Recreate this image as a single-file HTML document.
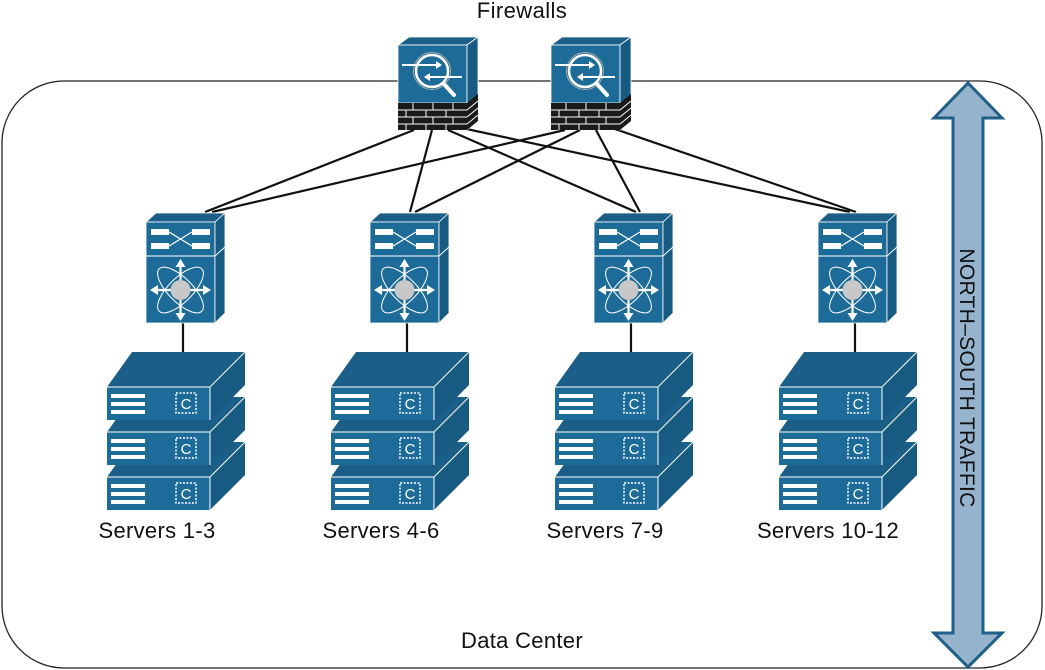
<!DOCTYPE html>
<html><head><style>
body{margin:0;background:#fff;}
svg{display:block;font-family:"Liberation Sans",Arial,sans-serif;}
</style></head><body>
<svg width="1045" height="670" viewBox="0 0 1045 670" xmlns="http://www.w3.org/2000/svg">
<defs>
<g id="srv">
 <polygon points="0,35 25,0 138,0 103,35" fill="#1b5f88"/>
 <rect x="0" y="35" width="103" height="33" fill="#1d6b98"/>
 <polygon points="103,35 138,0 138,33 103,68" fill="#175a82"/>
 <line x1="0" y1="35" x2="103" y2="35" stroke="#fff" stroke-width="1"/>
 <line x1="103" y1="35" x2="138" y2="0" stroke="#fff" stroke-width="1"/>
 <line x1="103" y1="35" x2="103" y2="68" stroke="#fff" stroke-width="1"/>
 <rect x="4" y="42" width="34" height="4" fill="#fff"/>
 <rect x="4" y="50" width="34" height="4" fill="#fff"/>
 <rect x="4" y="58" width="34" height="4" fill="#fff"/>
 <rect x="69" y="41" width="20" height="20" fill="none" stroke="#fff" stroke-width="1.5" stroke-dasharray="2,1.5"/>
 <text x="79" y="57" font-size="15" fill="#fff" text-anchor="middle">C</text>
</g>
<g id="stack">
 <use href="#srv" y="90"/>
 <use href="#srv" y="45"/>
 <use href="#srv" y="0"/>
</g>
<g id="sw">
 <polygon points="0,9 10,0 79,0 69,9" fill="#1b5f88" stroke="#fff" stroke-width="0.8"/>
 <rect x="0" y="9" width="69" height="101" fill="#1d6b98" stroke="#fff" stroke-width="0.8"/>
 <polygon points="69,9 79,0 79,100 69,110" fill="#175a82" stroke="#fff" stroke-width="0.8"/>
 <line x1="0" y1="43" x2="69" y2="43" stroke="#fff" stroke-width="1"/>
 <line x1="69" y1="43" x2="79" y2="34" stroke="#fff" stroke-width="1"/>
 <rect x="5" y="16" width="18" height="6" fill="#fff"/>
 <rect x="46" y="16" width="18" height="6" fill="#fff"/>
 <rect x="5" y="30" width="18" height="6" fill="#fff"/>
 <rect x="46" y="30" width="18" height="6" fill="#fff"/>
 <path d="M23,19 L46,33 M23,33 L46,19" stroke="#fff" stroke-width="1.2"/>
 <ellipse cx="34.5" cy="77" rx="30" ry="12" fill="none" stroke="#fff" stroke-width="1" transform="rotate(45 34.5 77)"/>
 <ellipse cx="34.5" cy="77" rx="30" ry="12" fill="none" stroke="#fff" stroke-width="1" transform="rotate(-45 34.5 77)"/>
 <path d="M34.5,50 V104 M8,77 H61" stroke="#fff" stroke-width="2.2"/>
 <path d="M34.5,46 l-5,8 h10z M34.5,108 l-5,-8 h10z M4,77 l8,-5 v10z M65,77 l-8,-5 v10z" fill="#fff"/>
 <circle cx="34.5" cy="77" r="10" fill="#c8c8c8"/>
</g>
<g id="fw">
 <polygon points="0,8 11,0 80,0 69,8" fill="#1b5f88" stroke="#fff" stroke-width="0.8"/>
 <rect x="0" y="8" width="69" height="58" fill="#1d6b98" stroke="#fff" stroke-width="0.8"/>
 <polygon points="69,8 80,0 80,84 69,93" fill="#175a82" stroke="#fff" stroke-width="0.8"/>
 <rect x="0" y="66" width="69" height="27" fill="#1a1a1a"/>
 <polygon points="69,66 80,57 80,84 69,93" fill="#1a1a1a"/>
 <path d="M0,73 H69 M0,80 H69 M0,87 H69 M69,73 L80,64 M69,80 L80,71 M69,87 L80,78 M15,66 V73 M35,66 V73 M55,66 V73 M8,73 V80 M28,73 V80 M48,73 V80 M15,80 V87 M35,80 V87 M55,80 V87 M8,87 V93 M28,87 V93 M48,87 V93" stroke="#fff" stroke-width="1"/>
 <circle cx="34" cy="34" r="16" fill="none" stroke="#fff" stroke-width="2.5"/>
 <circle cx="34" cy="34" r="18.5" fill="none" stroke="#aaa" stroke-width="1"/>
 <line x1="46" y1="47" x2="56" y2="58" stroke="#fff" stroke-width="4" stroke-linecap="round"/>
 <path d="M4,28 H40" stroke="#fff" stroke-width="2"/>
 <path d="M44,28 l-6,-4 v8z" fill="#fff"/>
 <path d="M30,40 H64" stroke="#fff" stroke-width="2"/>
 <path d="M26,40 l6,-4 v8z" fill="#fff"/>
</g>
</defs>

<rect x="2" y="81" width="1040" height="587" rx="62" ry="62" fill="none" stroke="#222" stroke-width="1.3"/>

<text x="522" y="18" font-size="22" letter-spacing="0.4" text-anchor="middle" fill="#111">Firewalls</text>

<g stroke="#111" stroke-width="2.2">
 <line x1="414" y1="130" x2="205" y2="212"/>
 <line x1="432" y1="130" x2="410" y2="212"/>
 <line x1="448" y1="130" x2="636" y2="212"/>
 <line x1="462" y1="128" x2="850" y2="212"/>
 <line x1="565" y1="130" x2="212" y2="212"/>
 <line x1="580" y1="130" x2="415" y2="212"/>
 <line x1="596" y1="130" x2="640" y2="212"/>
 <line x1="612" y1="128" x2="856" y2="212"/>
 <line x1="183" y1="322" x2="183" y2="352"/>
 <line x1="407" y1="322" x2="407" y2="352"/>
 <line x1="631" y1="322" x2="631" y2="352"/>
 <line x1="855" y1="322" x2="855" y2="352"/>
</g>

<use href="#fw" x="398" y="37"/>
<use href="#fw" x="551" y="37"/>

<use href="#sw" x="146" y="213"/>
<use href="#sw" x="370" y="213"/>
<use href="#sw" x="594" y="213"/>
<use href="#sw" x="818" y="213"/>

<use href="#stack" x="107" y="352"/>
<use href="#stack" x="331" y="352"/>
<use href="#stack" x="555" y="352"/>
<use href="#stack" x="779" y="352"/>

<g font-size="22" letter-spacing="0.3" fill="#111" text-anchor="middle">
 <text x="157" y="538">Servers 1-3</text>
 <text x="381" y="538">Servers 4-6</text>
 <text x="605" y="538">Servers 7-9</text>
 <text x="828" y="538">Servers 10-12</text>
 <text x="522" y="648">Data Center</text>
</g>

<polygon points="968,83 1002,118 983,118 983,633 1002,633 968,667 934,633 953,633 953,118 934,118" fill="#95b3cc" stroke="#1f5f88" stroke-width="3" stroke-linejoin="miter"/>
<text x="0" y="0" font-size="21" letter-spacing="0.3" fill="#111" text-anchor="middle" transform="translate(960,378) rotate(90)">NORTH–SOUTH TRAFFIC</text>
</svg>
</body></html>
